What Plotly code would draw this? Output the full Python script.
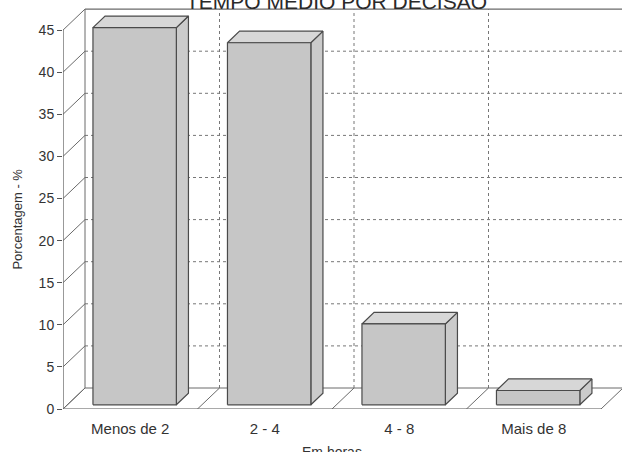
import plotly.graph_objects as go

# Data
categories = ["Menos de 2", "2 - 4", "4 - 8", "Mais de 8"]
percent = [44.8, 43.0, 9.6, 1.7]
y_ticks = [0, 5, 10, 15, 20, 25, 30, 35, 40, 45]

# Oblique projection settings (axis units)
W, H = 622, 452
ML, MB = 63, 43
PX_X = 134.5          # pixels per category slot
PX_Y = 8.42           # pixels per percentage point
DX = 22 / PX_X        # depth offset along x
DY = 21 / PX_Y        # depth offset along y
BAR_LO, BAR_HI = 0.19, 0.81    # bar extent inside a slot
D_FRONT, D_BACK = 0.20, 0.75   # bar extent in depth
n = len(categories)

fig = go.Figure()


def line(xs, ys, color="#5a5a5a", width=1, dash="solid"):
    fig.add_trace(go.Scatter(x=xs, y=ys, mode="lines", hoverinfo="skip",
                             showlegend=False,
                             line=dict(color=color, width=width, dash=dash)))


def poly(xs, ys, fill):
    fig.add_trace(go.Scatter(x=xs + [xs[0]], y=ys + [ys[0]], mode="lines",
                             fill="toself", fillcolor=fill, hoverinfo="skip",
                             showlegend=False,
                             line=dict(color="#4a4a4a", width=1.2)))


top = y_ticks[-1]

# back wall horizontal grid
for v in y_ticks[1:-1]:
    line([DX, n + DX], [v + DY, v + DY], color="#777777", dash="dot")
line([DX, n + DX], [top + DY, top + DY], color="#6a6a6a", width=1.2)
# back wall vertical grid at slot boundaries
for k in range(1, n):
    line([k + DX, k + DX], [DY, top + DY], color="#777777", dash="dot")
# left wall: front axis, back edge and depth lines
line([0, 0], [0, top], color="#555555", width=1.2)
line([DX, DX], [DY, top + DY], color="#6a6a6a", width=1)
for v in y_ticks:
    line([0, DX], [v, v + DY], color="#6a6a6a", width=1)
# floor
line([0, n], [0, 0], color="#555555", width=1.2)
line([DX, n + DX], [DY, DY], color="#6a6a6a", width=1)
for k in range(0, n + 1):
    ext = 0 if k == 0 else 0.25
    line([k - ext * DX, k + DX], [-ext * DY, DY], color="#6a6a6a", width=1)

# 3D bars
for i, v in enumerate(percent):
    fx, fy = D_FRONT * DX, D_FRONT * DY
    bx, by = D_BACK * DX, D_BACK * DY
    x0, x1 = i + BAR_LO, i + BAR_HI
    # side face
    poly([x1 + fx, x1 + bx, x1 + bx, x1 + fx],
         [fy, by, v + by, v + fy], "#cbcbcb")
    # top face
    poly([x0 + fx, x1 + fx, x1 + bx, x0 + bx],
         [v + fy, v + fy, v + by, v + by], "#d7d7d7")
    # front face
    poly([x0 + fx, x1 + fx, x1 + fx, x0 + fx],
         [fy, fy, v + fy, v + fy], "#c6c6c6")

font = "Liberation Sans, Arial, sans-serif"

fig.update_layout(
    width=W, height=H, autosize=False,
    margin=dict(l=ML, r=0, t=0, b=MB, pad=0),
    paper_bgcolor="white", plot_bgcolor="white",
    font=dict(family=font, color="#333333"),
    xaxis=dict(range=[0, (W - ML) / PX_X], showgrid=False, zeroline=False,
               showline=False, tickvals=[i + 0.5 for i in range(n)],
               ticktext=categories, ticks="outside", ticklen=6,
               tickcolor="rgba(0,0,0,0)", tickfont=dict(size=15, color="#333333")),
    yaxis=dict(range=[0, (H - MB) / PX_Y], showgrid=False, zeroline=False,
               showline=False, tickvals=y_ticks, ticks="outside", ticklen=5,
               tickcolor="#555555", tickfont=dict(size=14, color="#333333")),
    annotations=[
        dict(text="TEMPO MÉDIO POR DECISÃO", xref="x", yref="paper",
             x=2.03, y=1, yanchor="middle", yshift=-1, showarrow=False,
             font=dict(size=21, color="#2a2a2a")),
        dict(text="Porcentagem - %", xref="paper", yref="y", x=0, y=22.5,
             xanchor="center", yanchor="middle", xshift=-45, textangle=-90,
             showarrow=False, font=dict(size=13, color="#333333")),
        dict(text="Em horas", xref="x", yref="paper", x=2.0, y=0,
             yanchor="middle", yshift=-43, showarrow=False,
             font=dict(size=14, color="#333333")),
    ],
)

fig.write_html("out.html")
